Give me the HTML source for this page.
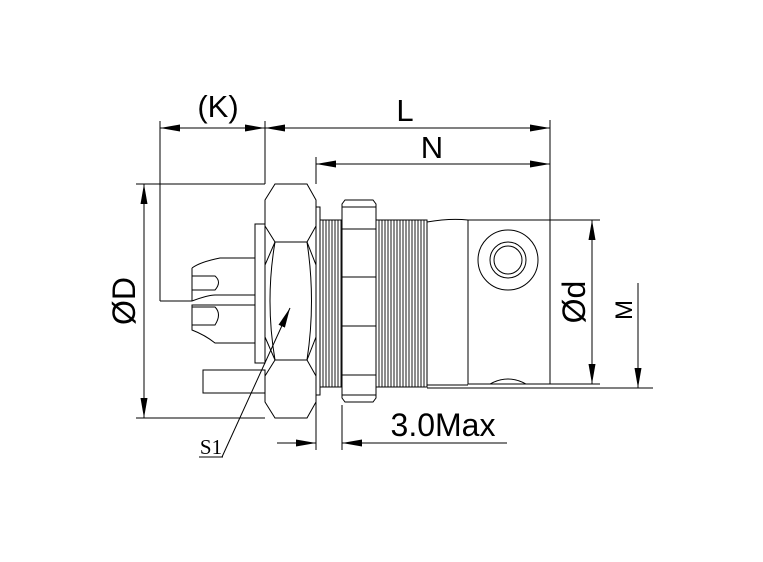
<!DOCTYPE html>
<html><head><style>html,body{margin:0;padding:0;background:#fff}svg{display:block}</style></head><body>
<svg width="763" height="562" viewBox="0 0 763 562" xmlns="http://www.w3.org/2000/svg" font-family="Liberation Sans, sans-serif">
<defs>
<marker id="a" markerWidth="20" markerHeight="7" refX="20" refY="3.5" orient="auto" markerUnits="userSpaceOnUse"><path d="M0,0 L20,3.5 L0,7 Z" fill="#000"/></marker>
</defs>
<g stroke="#000" stroke-width="1" fill="none">
<line x1="160" y1="121" x2="160" y2="301"/>
<polyline points="160,301 192,301"/>
<line x1="265" y1="121" x2="265" y2="184"/>
<line x1="316" y1="157" x2="316" y2="184"/>
<line x1="550" y1="120" x2="550" y2="220"/>
<line x1="136" y1="184" x2="265" y2="184"/>
<line x1="136" y1="418" x2="265" y2="418"/>
<line x1="550" y1="220" x2="600" y2="220"/>
<line x1="550" y1="384" x2="600" y2="384"/>
<line x1="427" y1="388" x2="653" y2="388"/>
<line x1="316" y1="400" x2="316" y2="450"/>
<line x1="342" y1="405" x2="342" y2="450"/>
<line x1="212" y1="128" x2="160" y2="128" marker-end="url(#a)"/>
<line x1="212" y1="128" x2="265" y2="128" marker-end="url(#a)"/>
<line x1="400" y1="128" x2="265" y2="128" marker-end="url(#a)"/>
<line x1="400" y1="128" x2="550" y2="128" marker-end="url(#a)"/>
<line x1="430" y1="164" x2="316" y2="164" marker-end="url(#a)"/>
<line x1="430" y1="164" x2="550" y2="164" marker-end="url(#a)"/>
<line x1="144" y1="300" x2="144" y2="184" marker-end="url(#a)"/>
<line x1="144" y1="300" x2="144" y2="418" marker-end="url(#a)"/>
<line x1="592" y1="300" x2="592" y2="220" marker-end="url(#a)"/>
<line x1="592" y1="300" x2="592" y2="384" marker-end="url(#a)"/>
<line x1="638" y1="283" x2="638" y2="388" marker-end="url(#a)"/>
<line x1="277" y1="443" x2="316" y2="443" marker-end="url(#a)"/>
<line x1="507" y1="443" x2="342" y2="443" marker-end="url(#a)"/>
<line x1="222" y1="457" x2="290" y2="308" marker-end="url(#a)"/>
<line x1="199" y1="457" x2="223" y2="457"/>
<path d="M255,258 H220 Q200,262 192,268 M192,301 Q208,295 215,295 H255"/>
<path d="M192,268 V301 M192,276 H215 Q222,282 215,290 H192"/>
<path d="M255,305 H192 V330 Q205,335 215,343 H255"/>
<path d="M192,307 H215 Q222,314 215,325 H192"/>
<rect x="203" y="370" width="62" height="23"/>
<rect x="255" y="224" width="10" height="139"/>
<path d="M275,184 H307 L316,200 V226 L307,242 H275 L265,226 V200 Z"/>
<path d="M275,242 H307 L316,265 V337 L307,360 H275 L265,337 V265 Z"/>
<path d="M275,360 H307 L316,376 V402 L307,418 H275 L265,402 V376 Z"/>
<path d="M275,242 Q265,301 275,360 M307,242 Q316,301 307,360"/>
<rect x="316" y="207" width="4" height="188"/>
<rect x="320" y="220" width="22" height="167"/>
<rect x="376" y="220" width="51" height="167"/>
</g>
<g stroke="#000" stroke-width="0.9">
<path d="M323,220V387M326,220V387M329,220V387M332,220V387M335,220V387M338,220V387M341,220V387M379,220V387M382,220V387M385,220V387M388,220V387M391,220V387M394,220V387M397,220V387M400,220V387M403,220V387M406,220V387M409,220V387M412,220V387M415,220V387M418,220V387M421,220V387M424,220V387"/>
</g>
<g stroke="#000" stroke-width="1" fill="none">
<path d="M345,200 H373 L376,204 V398 L373,402 H345 L342,398 V204 Z" fill="#fff"/>
<line x1="342" y1="207" x2="376" y2="207"/>
<line x1="342" y1="229" x2="376" y2="229"/>
<line x1="342" y1="277" x2="376" y2="277"/>
<line x1="342" y1="326" x2="376" y2="326"/>
<line x1="342" y1="375" x2="376" y2="375"/>
<line x1="342" y1="395" x2="376" y2="395"/>
<path d="M427,222 Q450,218 468,220 M427,385 H468"/>
<rect x="468" y="220" width="82" height="164"/>
<circle cx="508" cy="260" r="30"/>
<circle cx="508" cy="260" r="18"/>
<circle cx="508" cy="260" r="14"/>
<path d="M490,384 Q508,374 526,384"/>
</g>
<g fill="#000">
<text x="218" y="117" font-size="31" text-anchor="middle">(K)</text>
<text x="405" y="121" font-size="31" text-anchor="middle">L</text>
<text x="432" y="158" font-size="31" text-anchor="middle">N</text>
<text x="443" y="436" font-size="32" text-anchor="middle">3.0Max</text>
<text x="211" y="454" font-size="21" text-anchor="middle" font-family="Liberation Serif, serif">S1</text>
<text transform="translate(135,301) rotate(-90)" font-size="32" text-anchor="middle">ØD</text>
<text transform="translate(585,302) rotate(-90)" font-size="32" text-anchor="middle">Ød</text>
<text transform="translate(632,310) rotate(-90)" font-size="24" text-anchor="middle">M</text>
</g>
</svg>
</body></html>
